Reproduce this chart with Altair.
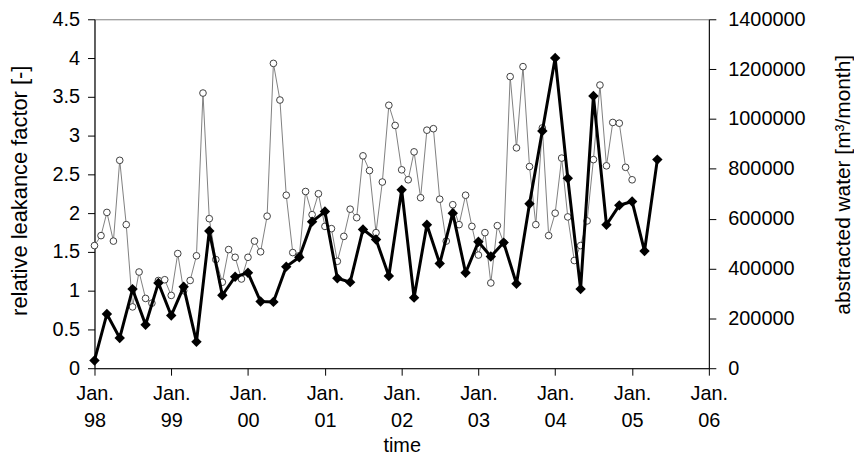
import altair as alt
import pandas as pd

# relative leakance factor, every two months from Jan. 1998
leakance = [0.10, 0.70, 0.39, 1.02, 0.56, 1.10, 0.68, 1.05, 0.34, 1.77,
            0.94, 1.18, 1.23, 0.86, 0.855, 1.31, 1.43, 1.89, 2.02, 1.16,
            1.11, 1.79, 1.66, 1.19, 2.30, 0.91, 1.85, 1.35, 2.00, 1.23,
            1.63, 1.44, 1.62, 1.09, 2.12, 3.06, 4.00, 2.45, 1.02, 3.51,
            1.85, 2.10, 2.15, 1.51, 2.69]

# abstracted water [m3/month], monthly from Jan. 1998
water = [492000, 532000, 625000, 510000, 834000, 576000, 246000, 386000, 280000, 261000,
         352000, 355000, 292000, 460000, 311000, 352000, 451000, 1104000, 600000, 436000,
         345000, 476000, 445000, 358000, 445000, 510000, 467000, 610000, 1223000, 1076000,
         694000, 464000, 451000, 709000, 616000, 700000, 569000, 560000, 429000, 529000,
         638000, 604000, 852000, 793000, 544000, 747000, 1055000, 974000, 796000, 756000,
         868000, 684000, 955000, 961000, 678000, 510000, 656000, 576000, 694000, 569000,
         454000, 544000, 342000, 572000, 504000, 1170000, 884000, 1210000, 809000, 576000,
         964000, 532000, 622000, 843000, 607000, 432000, 492000, 591000, 837000, 1136000,
         812000, 986000, 983000, 806000, 756000]

tick_years = [1998, 1999, 2000, 2001, 2002, 2003, 2004, 2005, 2006]
left_ticks = [0.0, 0.5, 1.0, 1.5, 2.0, 2.5, 3.0, 3.5, 4.0, 4.5]
right_ticks = [0, 200000, 400000, 600000, 800000, 1000000, 1200000, 1400000]

leak_df = pd.DataFrame({
    "date": pd.date_range("1998-01-01", periods=len(leakance), freq="2MS"),
    "leak": leakance,
})
water_df = pd.DataFrame({
    "date": pd.date_range("1998-01-01", periods=len(water), freq="MS"),
    "water": water,
})

FONT = "Liberation Sans"
FS = 20

x_enc = alt.X(
    "date:T",
    scale=alt.Scale(domain=[alt.DateTime(year=tick_years[0], month=1, date=1),
                            alt.DateTime(year=tick_years[-1], month=1, date=1)],
                    nice=False),
    axis=alt.Axis(
        values=[alt.DateTime(year=y, month=1, date=1) for y in tick_years],
        labelExpr="['Jan.', timeFormat(datum.value, '%y')]",
        title="time",
        titleY=84,
        titleBaseline="alphabetic",
        titleFontSize=20,
        labelPadding=8,
        labelLineHeight=28,
        labelBaseline="top",
        labelFlush=False,
        labelOverlap=False,
    ),
)

y_right = alt.Y(
    "water:Q",
    scale=alt.Scale(domain=[0, 1400000], nice=False),
    axis=alt.Axis(orient="right", values=right_ticks, format="d",
                  title="abstracted water [m³/month]",
                  titleFontSize=21,
                  titleAngle=270, titleX=135, titleY=166,
                  titleBaseline="middle", labelPadding=12,
                  labelOverlap=False),
)

y_left = alt.Y(
    "leak:Q",
    scale=alt.Scale(domain=[0, 4.5], nice=False),
    axis=alt.Axis(orient="left", values=left_ticks, format="~g",
                  title="relative leakance factor [-]",
                  titleFontSize=22,
                  titleAngle=270, titleX=-75, titleY=172,
                  titleBaseline="middle", labelPadding=8,
                  labelOverlap=False),
)

gray_line = alt.Chart(water_df).mark_line(
    color="#808080", strokeWidth=1
).encode(x=x_enc, y=y_right)
gray_pts = alt.Chart(water_df).mark_point(
    shape="circle", filled=False, fill="white", fillOpacity=1,
    stroke="#404040", strokeWidth=1, size=45, opacity=1
).encode(x=x_enc, y=y_right)
gray = alt.layer(gray_line, gray_pts)

black_line = alt.Chart(leak_df).mark_line(
    color="black", strokeWidth=3
).encode(x=x_enc, y=y_left)
black_pts = alt.Chart(leak_df).mark_point(
    shape="diamond", filled=True, color="black", size=110, opacity=1
).encode(x=x_enc, y=y_left)
black = alt.layer(black_line, black_pts)

chart = alt.layer(gray, black).resolve_scale(y="independent").properties(
    width=618,
    height=351,
    background="white",
    autosize=alt.AutoSizeParams(type="none"),
    padding={"left": 87, "top": 10, "right": 146, "bottom": 92},
).configure_view(
    stroke="#808080", strokeWidth=1
).configure_axis(
    grid=False,
    domainColor="black",
    tickColor="black",
    tickSize=7,
    labelFont=FONT,
    labelFontSize=FS,
    labelColor="black",
    titleFont=FONT,
    titleFontSize=FS,
    titleFontWeight="normal",
    titleColor="black",
)

chart.save("out.html", embed_options={"renderer": "svg", "actions": False})
